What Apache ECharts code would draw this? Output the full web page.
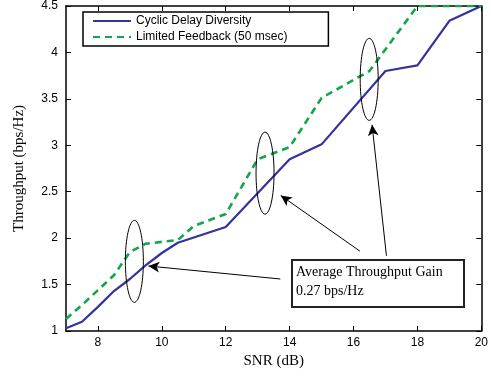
<!DOCTYPE html>
<html>
<head>
<meta charset="utf-8">
<script src="https://cdn.jsdelivr.net/npm/echarts@6/dist/echarts.min.js"></script>
<style>
  html, body { margin: 0; padding: 0; background: #fff; }
  #chart { width: 491px; height: 376px; }
</style>
</head>
<body>
<div id="chart"></div>
<script>
// Cyclic Delay Diversity
const snrCdd = [7, 7.5, 8, 8.5, 9, 9.5, 10, 10.5, 12, 14, 15, 17, 18, 19, 20]
const thrCdd = [1.03, 1.1, 1.26, 1.43, 1.56, 1.71, 1.84, 1.95, 2.12, 2.85, 3.01, 3.8, 3.86, 4.34, 4.5]

// Limited Feedback (50 msec)
const snrLf = [7, 7.5, 8, 8.5, 9, 9.5, 10.5, 11, 12, 13, 14, 15, 16.5, 18, 19, 20]
const thrLf = [1.13, 1.28, 1.44, 1.6, 1.85, 1.94, 1.98, 2.13, 2.26, 2.85, 2.98, 3.51, 3.8, 4.5, 4.5, 4.5]

const xTicks = [8, 10, 12, 14, 16, 18, 20]
const seriesNames = ['Cyclic Delay Diversity', 'Limited Feedback (50 msec)']

// annotations (data coordinates)
const ellipseCenters = [[9.14, 1.75], [13.23, 2.7], [16.49, 3.71]]
const arrows = [
  [[13.71, 1.56], [9.58, 1.7]],
  [[16.2, 1.86], [13.72, 2.46]],
  [[17.03, 1.81], [16.58, 3.22]],
]
const gainText = ['Average Throughput Gain', '0.27 bps/Hz']

const chart = echarts.init(document.getElementById('chart'))

const tickStyle = { show: true, inside: true, length: 5, lineStyle: { color: '#000', width: 1 } }
const lineStyleAxis = { show: true, onZero: false, lineStyle: { color: '#000', width: 1.5 } }
const sans = 'Liberation Sans, Arial, sans-serif'
const serif = 'Liberation Serif, Times New Roman, serif'

const option = {
  animation: false,
  backgroundColor: '#fff',
  grid: { left: 66, right: 8, top: 4, bottom: 45 },
  legend: {
    data: seriesNames,
    orient: 'vertical',
    left: 83,
    top: 12,
    itemWidth: 38,
    itemHeight: 14,
    itemGap: 4,
    padding: [3, 41, 3, 9],
    borderColor: '#000',
    borderWidth: 1.5,
    backgroundColor: '#fff',
    itemStyle: { opacity: 0 },
    textStyle: { fontFamily: sans, fontSize: 12, color: '#000' },
  },
  xAxis: [
    {
      type: 'value',
      min: 7,
      max: 20,
      name: 'SNR (dB)',
      nameLocation: 'middle',
      nameGap: 22,
      nameTextStyle: { fontFamily: serif, fontSize: 15, color: '#000' },
      axisLine: lineStyleAxis,
      axisTick: Object.assign({ customValues: xTicks }, tickStyle),
      axisLabel: { customValues: xTicks, fontFamily: sans, fontSize: 12, color: '#000', margin: 6 },
      splitLine: { show: false },
    },
    {
      type: 'value',
      position: 'top',
      min: 7,
      max: 20,
      axisLine: lineStyleAxis,
      axisTick: Object.assign({ customValues: xTicks }, tickStyle),
      axisLabel: { show: false },
      splitLine: { show: false },
    },
  ],
  yAxis: [
    {
      type: 'value',
      min: 1,
      max: 4.5,
      interval: 0.5,
      name: 'Throughput (bps/Hz)',
      nameLocation: 'middle',
      nameGap: 39,
      nameTextStyle: { fontFamily: serif, fontSize: 15, color: '#000' },
      axisLine: lineStyleAxis,
      axisTick: tickStyle,
      axisLabel: { fontFamily: sans, fontSize: 12, color: '#000', margin: 8 },
      splitLine: { show: false },
    },
    {
      type: 'value',
      position: 'right',
      min: 1,
      max: 4.5,
      interval: 0.5,
      axisLine: lineStyleAxis,
      axisTick: tickStyle,
      axisLabel: { show: false },
      splitLine: { show: false },
    },
  ],
  series: [
    {
      name: seriesNames[0],
      type: 'line',
      data: snrCdd.map((x, i) => [x, thrCdd[i]]),
      symbol: 'none',
      lineStyle: { color: '#33339a', width: 2.2 },
      itemStyle: { color: '#33339a' },
      z: 3,
    },
    {
      name: seriesNames[1],
      type: 'line',
      data: snrLf.map((x, i) => [x, thrLf[i]]),
      symbol: 'none',
      lineStyle: { color: '#12a54a', width: 2.6, type: [7, 5] },
      itemStyle: { color: '#12a54a' },
      z: 4,
      markLine: {
        silent: true,
        symbol: ['none', 'arrow'],
        symbolSize: [8, 11],
        label: { show: false },
        lineStyle: { color: '#000', width: 1, type: 'solid' },
        data: arrows.map(([a, b]) => [{ coord: a }, { coord: b }]),
      },
    },
    {
      // ellipses around the gain regions
      type: 'custom',
      silent: true,
      data: ellipseCenters,
      renderItem: (params, api) => {
        const p = api.coord([api.value(0), api.value(1)])
        return {
          type: 'ellipse',
          shape: { cx: p[0], cy: p[1], rx: 9, ry: 41 },
          style: { fill: 'none', stroke: '#000', lineWidth: 1 },
        }
      },
      z: 5,
    },
  ],
  graphic: [
    {
      type: 'group',
      left: 291,
      top: 259,
      children: [
        {
          type: 'rect',
          shape: { x: 0, y: 0, width: 172, height: 47 },
          style: { fill: '#fff', stroke: '#222', lineWidth: 2 },
        },
        {
          type: 'text',
          x: 4,
          y: 3,
          style: {
            text: gainText.join('\n'),
            font: '14px ' + serif,
            lineHeight: 19,
            fill: '#000',
          },
        },
      ],
    },
  ],
}

chart.setOption(option)
</script>
</body>
</html>
